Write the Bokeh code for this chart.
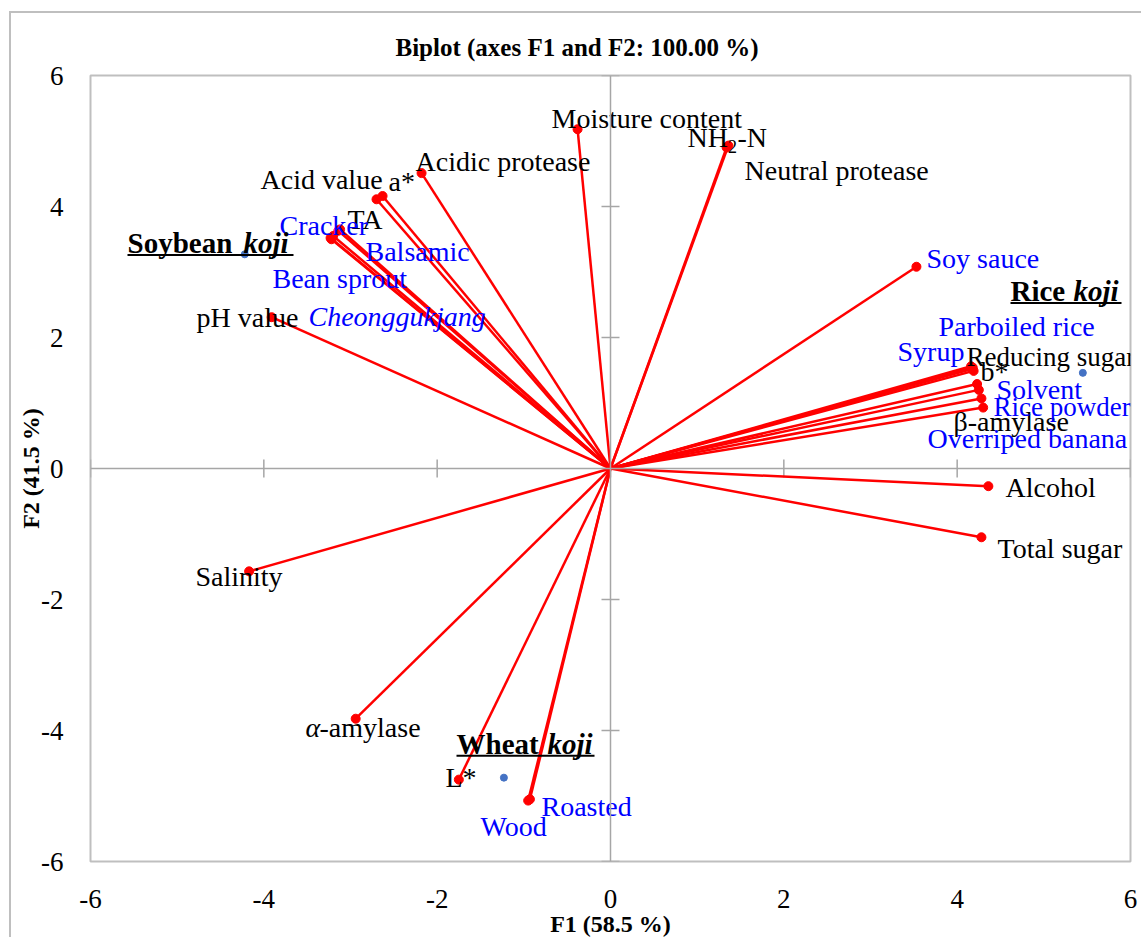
import numpy as np
from bokeh.plotting import figure
from bokeh.models import Range1d, FixedTicker, Span, ColumnDataSource
from bokeh.core.properties import value
from bokeh.embed import file_html
from bokeh.resources import INLINE

# ---------------- data ----------------
axis_ticks = [-6, -4, -2, 0, 2, 4, 6]

var_names = ["Moisture content", "NH2-N", "Neutral protease", "Acidic protease",
             "Acid value", "a*", "TA", "Cracker", "Balsamic", "Bean sprout",
             "Cheonggukjang", "pH value", "Salinity", "α-amylase", "L*",
             "Roasted", "Wood", "Soy sauce", "Syrup", "Parboiled rice",
             "Reducing sugar", "b*", "Solvent", "Rice powder", "β-amylase",
             "Overriped banana", "Alcohol", "Total sugar"]
var_f1 = [-0.38, 1.36, 1.34, -2.18,
          -2.70, -2.63, -3.12, -3.14, -3.20, -3.23,
          -3.22, -3.91, -4.17, -2.94, -1.75,
          -0.95, -0.93, 3.53, 4.16, 4.17,
          4.18, 4.19, 4.23, 4.25, 4.28,
          4.30, 4.36, 4.28]
var_f2 = [5.18, 4.93, 4.90, 4.51,
          4.11, 4.16, 3.65, 3.63, 3.55, 3.52,
          3.50, 2.31, -1.57, -3.82, -4.75,
          -5.07, -5.05, 3.08, 1.56, 1.52,
          1.54, 1.49, 1.29, 1.20, 1.07,
          0.93, -0.27, -1.05]

obs_names = ["Soybean koji", "Rice koji", "Wheat koji"]
obs_f1 = [-4.22, 5.45, -1.23]
obs_f2 = [3.27, 1.46, -4.72]

title_text = "Biplot (axes F1 and F2: 100.00 %)"
x_title = "F1 (58.5 %)"
y_title = "F2 (41.5 %)"

# ---------------- layout helpers (label placement, page pixel -> data) ----------------
FX0, FX1, FY0, FY1 = 90, 1130, 75, 863          # frame in page pixels
SX = (FX1 - FX0) / 12.0
SY = (FY1 - FY0) / 12.0
def dx(px):
    return (px - (FX0 + FX1) / 2) / SX
def dy(py):
    return ((FY0 + FY1) / 2 - py) / SY

OX, OY = 9, 11          # outer chart border (page pixels)
BW = 2
CX, CY = OX + BW, OY + BW   # canvas origin on the page

SERIF = "Liberation Serif"
LBL_SIZE = "28px"

p = figure(width=1143 - CX, height=939 - CY,
           x_range=Range1d(-6, 6), y_range=Range1d(-6, 6),
           output_backend="svg", toolbar_location=None,
           min_border_left=FX0 - CX, min_border_right=1143 - FX1,
           min_border_top=FY0 - CY, min_border_bottom=939 - FY1)
p.styles = {"margin-left": f"{OX}px", "margin-top": f"{OY}px",
            "border-left": f"{BW}px solid #BFBFBF", "border-top": f"{BW}px solid #BFBFBF"}
p.grid.visible = False
p.outline_line_color = "#BFBFBF"
p.outline_line_width = 2
p.background_fill_color = "white"
p.border_fill_color = "white"

for ax in (p.xaxis[0], p.yaxis[0]):
    ax.ticker = FixedTicker(ticks=axis_ticks)
    ax.major_label_overrides = {t: str(t) for t in axis_ticks}
    ax.axis_line_color = None
    ax.major_tick_line_color = None
    ax.minor_tick_line_color = None
    ax.major_tick_out = 0
    ax.major_tick_in = 0
    ax.minor_tick_out = 0
    ax.major_label_text_font = SERIF
    ax.major_label_text_font_size = "27px"
    ax.major_label_text_color = "black"
    ax.axis_label_text_font = SERIF
    ax.axis_label_text_font_size = "24px"
    ax.axis_label_text_font_style = "bold"
    ax.axis_label_text_color = "black"
p.yaxis[0].major_label_standoff = 27
p.xaxis[0].major_label_standoff = 28
p.xaxis[0].axis_label = x_title
p.yaxis[0].axis_label = y_title
p.xaxis[0].axis_label_standoff = 0
p.yaxis[0].axis_label_standoff = -6

p.title.text = title_text
p.title.text_font = SERIF
p.title.text_font_size = "25px"
p.title.text_font_style = "bold"
p.title.text_color = "black"
p.title.align = "left"
p.title.offset = 305
p.title.standoff = 30

# axes through origin
p.add_layout(Span(location=0, dimension="height", line_color="#A6A6A6", line_width=1.5))
p.add_layout(Span(location=0, dimension="width", line_color="#A6A6A6", line_width=1.5))
p.scatter(x=[0] * len(axis_ticks), y=axis_ticks, marker="dash", size=18,
          line_color="#A6A6A6", line_width=1.5)
p.scatter(x=axis_ticks, y=[0] * len(axis_ticks), marker="dash", size=18, angle=np.pi / 2,
          line_color="#A6A6A6", line_width=1.5)

# variable vectors
p.segment(x0=[0] * len(var_f1), y0=[0] * len(var_f1), x1=var_f1, y1=var_f2,
          line_color="#FF0000", line_width=2.5)
p.scatter(var_f1, var_f2, size=9, fill_color="#FF0000", line_color="#FF0000")

# observations
p.scatter(obs_f1, obs_f2, size=7, fill_color="#4472C4", line_color="#4472C4")

# ---------------- labels ----------------
def add_text(items, color, style="normal", size=LBL_SIZE, font=SERIF):
    src = ColumnDataSource(dict(x=[dx(a) for _, a, _ in items],
                                y=[dy(b) for _, _, b in items],
                                t=[t for t, _, _ in items]))
    p.text(x="x", y="y", text="t", source=src, text_color=color,
           text_font=value(font), text_font_size=value(size),
           text_font_style=style, text_align="left", text_baseline="middle")

black_items = [
    ("Moisture content", 551, 118),
    ("NH", 687, 137),
    ("-N", 737, 137),
    ("Neutral protease", 744, 170),
    ("Acidic protease", 415, 161),
    ("Acid value", 260, 179),
    ("a*", 388, 181),
    ("TA", 347, 219),
    ("pH value", 196, 318),
    ("b*", 980, 372),
    ("β-amylase", 953, 422),
    ("Alcohol", 1005, 488),
    ("Total sugar", 997, 549),
    ("Salinity", 195, 577),
    ("-amylase", 319, 729),
    ("L*", 445, 779),
]
add_text(black_items, "black")
add_text([("Reducing sugar", 966, 357)], "black", size="27px")
add_text([("2", 727.5, 146)], "black", size="18px")
add_text([("α", 305, 729)], "black", style="italic")

blue_items = [
    ("Cracker", 279, 225),
    ("Balsamic", 365, 251),
    ("Bean sprout", 272, 279),
    ("Soy sauce", 926, 258),
    ("Parboiled rice", 938, 327),
    ("Syrup", 897, 352),
    ("Solvent", 996, 390),
    ("Overriped banana", 927, 439),
    ("Roasted", 541, 808),
    ("Wood", 480, 828),
]
add_text(blue_items, "#0000FF")
add_text([("Rice powder", 993, 407)], "#0000FF", size="27px")
add_text([("Cheonggukjang", 308, 317)], "#0000FF", style="italic")

# group (observation) labels: bold, "koji" bold italic, underlined
grp_first = [("Soybean", 127, 243), ("Rice", 1010, 291), ("Wheat", 456, 745)]
grp_koji = [("koji", 243, 243), ("koji", 1073, 291), ("koji", 547, 745)]
add_text(grp_first, "black", style="bold", size="29px")
add_text(grp_koji, "black", style="bold italic", size="29px")
ul_x0 = [127, 1010, 456]
ul_x1 = [293, 1121, 594]
ul_y = [255, 303, 757]
p.segment(x0=[dx(v) for v in ul_x0], x1=[dx(v) for v in ul_x1],
          y0=[dy(v) for v in ul_y], y1=[dy(v) for v in ul_y],
          line_color="black", line_width=2)

open("out.html", "w").write(file_html(p, INLINE))
